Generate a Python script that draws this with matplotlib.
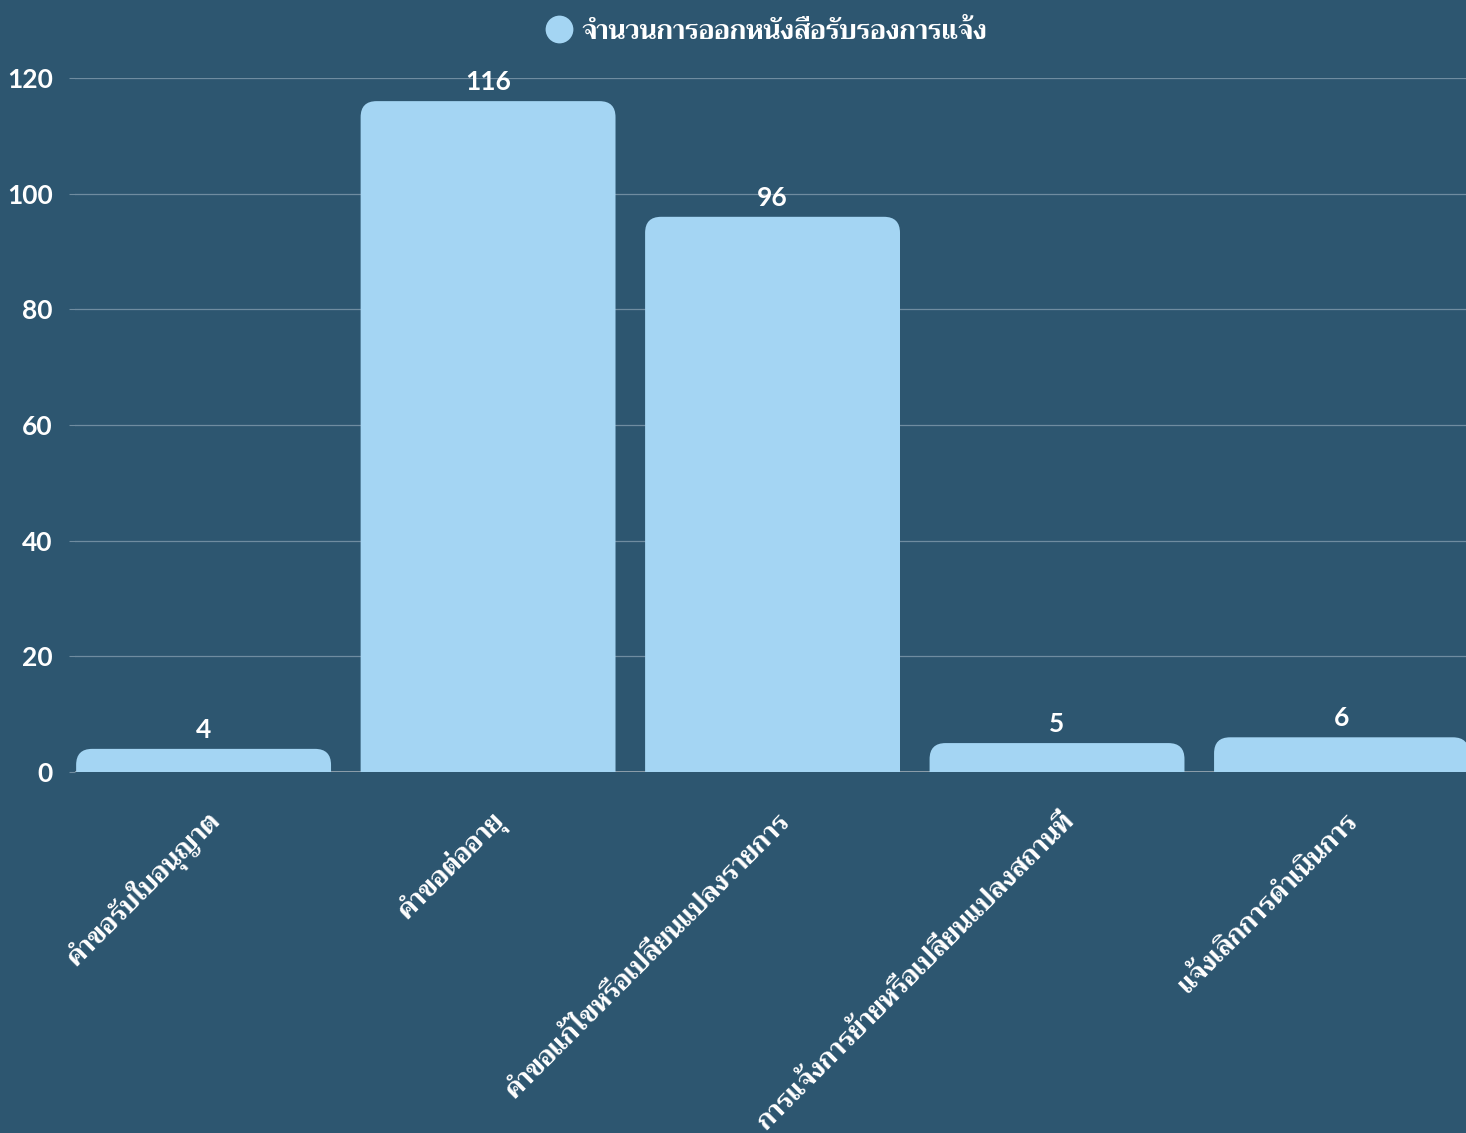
import numpy as np
import matplotlib
matplotlib.use("Agg")
import matplotlib.pyplot as plt
from matplotlib import font_manager
from matplotlib.ft2font import FT2Font
from matplotlib.path import Path
from matplotlib.patches import PathPatch
from matplotlib.lines import Line2D
import matplotlib.transforms as mtransforms

# data
categories = [
    "คำขอรับใบอนุญาต",
    "คำขอต่ออายุ",
    "คำขอแก้ไขหรือเปลี่ยนแปลงรายการ",
    "การแจ้งการย้ายหรือเปลี่ยนแปลงสถานที่",
    "แจ้งเลิกการดำเนินการ",
]
counts = [4, 116, 96, 5, 6]
series_name = "จำนวนการออกหนังสือรับรองการแจ้ง"
y_ticks = [0, 20, 40, 60, 80, 100, 120]

BG = "#2d5670"
BAR = "#a4d5f3"
GRID = "#6f8ca0"


def find_thai_font():
    found = []
    for f in font_manager.fontManager.ttflist:
        try:
            cmap = FT2Font(f.fname).get_charmap()
        except Exception:
            continue
        if 0x0E01 in cmap and 0x0E33 in cmap:
            w = f.weight if isinstance(f.weight, int) else 400
            found.append((w >= 600, f.name))
    found.sort(reverse=True)
    return found[0][1] if found else None


thai = find_thai_font()
fams = ["Lato", "DejaVu Sans"]
if thai:
    fams = ["Lato", thai, "DejaVu Sans"]
plt.rcParams["font.family"] = fams
plt.rcParams["font.weight"] = "bold"

fig = plt.figure(figsize=(14.66, 11.33), dpi=100, facecolor=BG)
ax = fig.add_axes([75 / 1466, 1 - 772 / 1133, 1 - 75 / 1466, (772 - 78) / 1133])
ax.set_facecolor(BG)

x = np.arange(len(categories))
ax.set_xlim(-0.452, 4.4376)
ax.set_ylim(0, 120)

# rounded-top bars
width = 0.896
px_per_x = ax.transData.transform((1, 0))[0] - ax.transData.transform((0, 0))[0]
px_per_y = ax.transData.transform((0, 1))[1] - ax.transData.transform((0, 0))[1]
r_px = 16
for xi, h in zip(x, counts):
    x0, x1 = xi - width / 2, xi + width / 2
    ry = min(r_px / px_per_y, h)
    rx = ry * px_per_y / px_per_x
    verts = [(x0, 0), (x0, h - ry), (x0, h), (x0 + rx, h), (x1 - rx, h),
             (x1, h), (x1, h - ry), (x1, 0), (x0, 0)]
    codes = [Path.MOVETO, Path.LINETO, Path.CURVE3, Path.CURVE3, Path.LINETO,
             Path.CURVE3, Path.CURVE3, Path.LINETO, Path.CLOSEPOLY]
    ax.add_patch(PathPatch(Path(verts, codes), facecolor=BAR, edgecolor="none", zorder=3))
    ax.annotate(str(h), (xi, h), xytext=(0, 5), textcoords="offset points",
                ha="center", va="bottom", color="white", fontsize=19, fontweight="bold")

ax.set_yticks(y_ticks)
ax.yaxis.grid(True, color=GRID, linewidth=0.9)
ax.set_axisbelow(True)
ax.axhline(0, color="#9aa9b4", linewidth=1.2, zorder=2)
for s in ax.spines.values():
    s.set_visible(False)
ax.tick_params(axis="y", colors="white", labelsize=19, length=4, color=GRID, pad=12)
ax.tick_params(axis="x", length=0, pad=32)
ax.set_xticks(x)
ax.set_xticklabels(categories, rotation=45, ha="right", va="center",
                   rotation_mode="anchor", color="white", fontsize=19)
offset = mtransforms.ScaledTranslation(0.12, 0, fig.dpi_scale_trans)
for lab in ax.get_xticklabels():
    lab.set_transform(lab.get_transform() + offset)

handle = Line2D([], [], marker="o", linestyle="none", markersize=20,
                markerfacecolor=BAR, markeredgecolor="none")
fig.legend([handle], [series_name], loc="center", bbox_to_anchor=(0.523, 1 - 30 / 1133),
           frameon=False, labelcolor="white", prop={"size": 19, "weight": "bold"},
           handletextpad=0.35, handlelength=1.0)

fig.savefig("out.png", dpi=100, facecolor=BG)
